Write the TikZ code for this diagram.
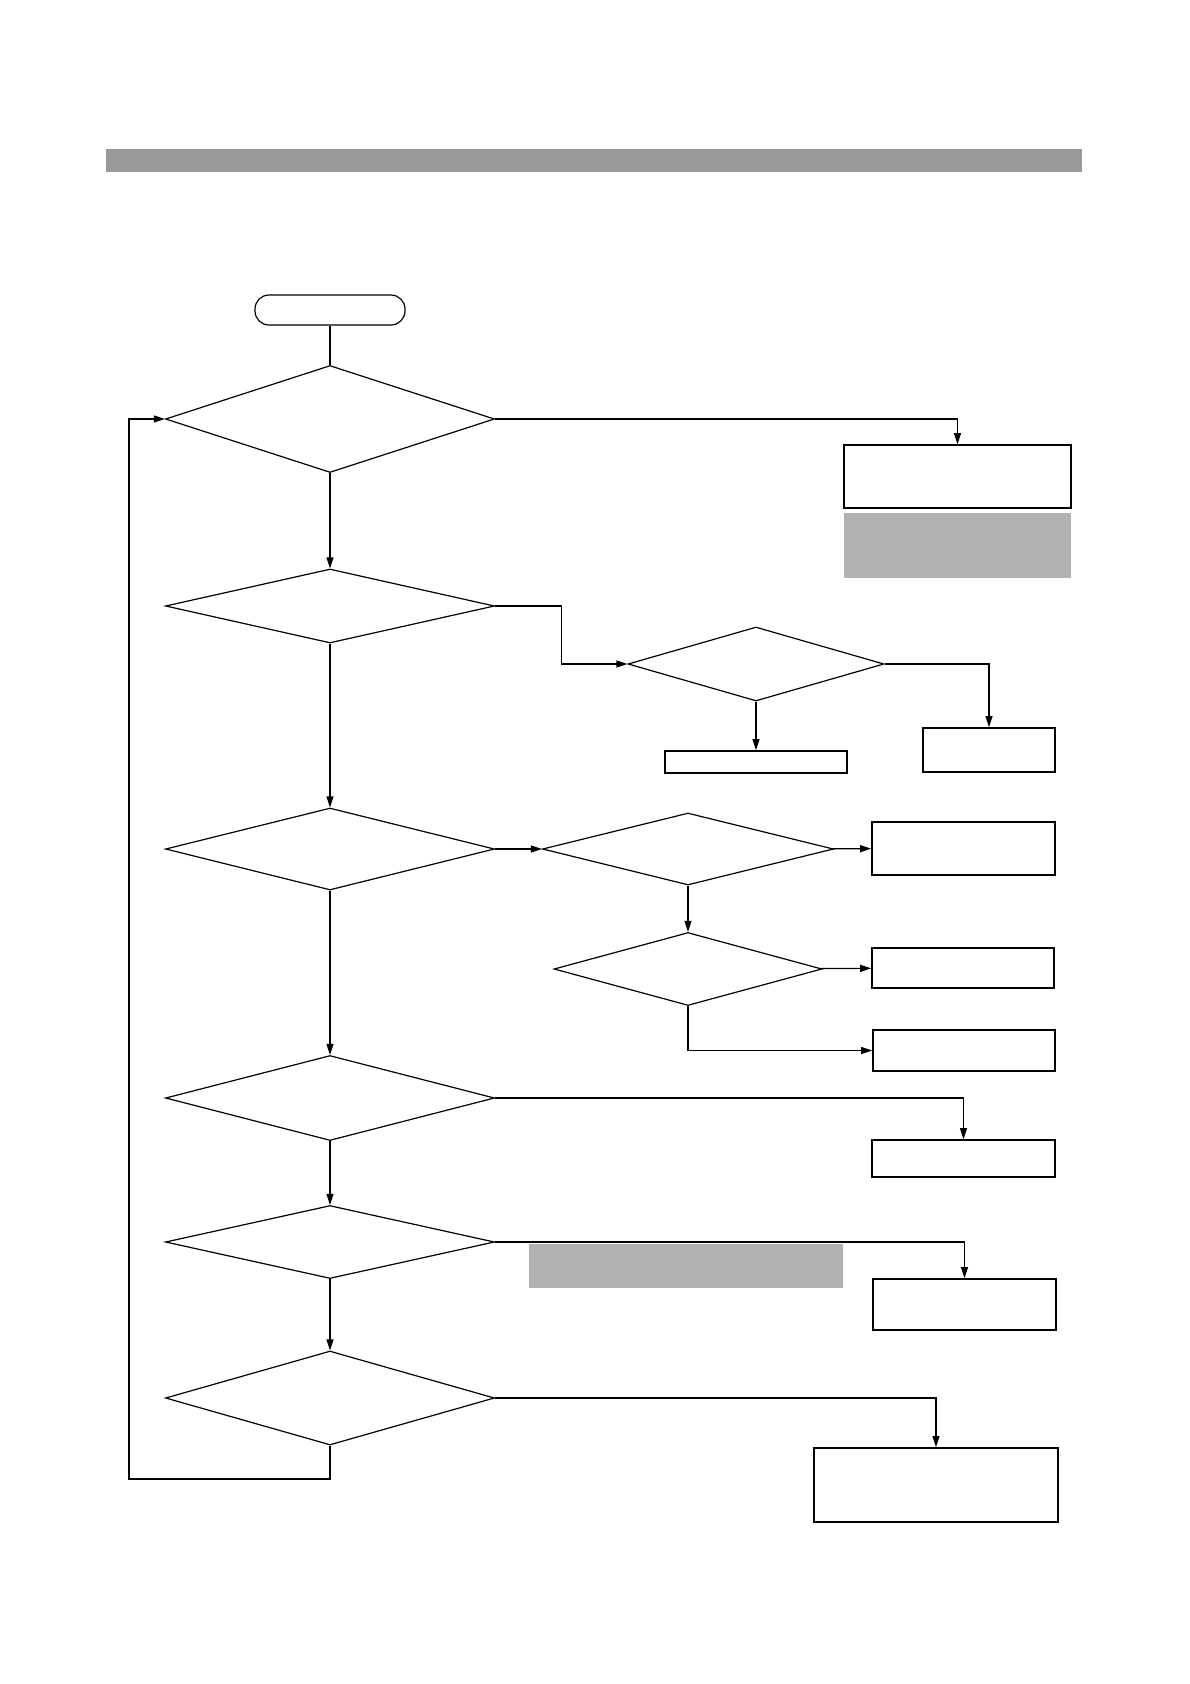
\documentclass[tikz,border=0pt]{standalone}
\usepackage{tikz}
\usetikzlibrary{shapes.geometric, arrows.meta, positioning}

\begin{document}
\begin{tikzpicture}[x=1pt, y=-1pt,
    decision/.style 2 args={diamond, draw, line width=1.2pt, inner sep=0pt, minimum width=#1, minimum height=#2},
    actbox/.style 2 args={rectangle, draw, line width=1.7pt, inner sep=0pt, minimum width=#1, minimum height=#2},
    shadebox/.style 2 args={rectangle, fill=black!30, inner sep=0pt, minimum width=#1, minimum height=#2},
    flow/.style={line width=1.2pt, -{Triangle[length=11pt, width=7pt]}},
    plain/.style={line width=1.2pt}]
  \useasboundingbox (0,0) rectangle (1190,1684);
  % header bar
  \fill[black!40] (106,149) rectangle (1082,172);

  \node[draw, line width=1.2pt, rounded corners=14pt, minimum width=150pt, minimum height=30pt] (start) at (330,310) {};

  % main column
  \node[decision={329pt}{107pt}] (chk1) at (330,419) {};
  \node[decision={329pt}{74pt}] (chk2) at (330,606) {};
  \node[decision={329pt}{82pt}] (chk3) at (330,849) {};
  \node[decision={329pt}{85pt}] (chk4) at (330,1098) {};
  \node[decision={329pt}{73pt}] (chk5) at (330,1242) {};
  \node[decision={329pt}{94pt}] (chk6) at (330,1398) {};

  % side branches
  \node[decision={256pt}{74pt}] (sub1) at (756,664) {};
  \node[decision={291pt}{72pt}] (sub2) at (688,849) {};
  \node[decision={268pt}{73pt}] (sub3) at (688,969) {};

  \node[actbox={227pt}{63pt}] (res1) at (957.5,476.5) {};
  \node[shadebox={227pt}{65pt}] (note1) at (957.5,545.5) {};
  \node[actbox={182pt}{22pt}] (res2) at (756,762) {};
  \node[actbox={132pt}{44pt}] (res3) at (989,750) {};
  \node[actbox={183pt}{53pt}] (res4) at (963.5,848.5) {};
  \node[actbox={182pt}{40pt}] (res5) at (963,968) {};
  \node[actbox={182pt}{41pt}] (res6) at (964,1050.5) {};
  \node[actbox={183pt}{37pt}] (res7) at (963.5,1158.5) {};
  \node[shadebox={314pt}{44pt}] (note2) at (686,1266) {};
  \node[actbox={183pt}{51pt}] (res8) at (964.5,1304.5) {};
  \node[actbox={244pt}{74pt}] (res9) at (936,1485) {};

  \coordinate (back) at (129,1479);

  % connectors
  \draw[plain] (start) -- (chk1);
  \draw[flow] (chk1.east) -| (res1.north);
  \draw[flow] (chk1) -- (chk2);
  \draw[flow] (chk2.east) -- ++(66,0) |- (sub1.west);
  \draw[flow] (sub1) -- (res2);
  \draw[flow] (sub1.east) -| (res3.north);
  \draw[flow] (chk2) -- (chk3);
  \draw[flow] (chk3) -- (sub2);
  \draw[flow] (sub2) -- (res4);
  \draw[flow] (sub2) -- (sub3);
  \draw[flow] (sub3) -- (res5);
  \draw[flow] (sub3.south) |- (res6.west);
  \draw[flow] (chk3) -- (chk4);
  \draw[flow] (chk4.east) -| (res7.north);
  \draw[flow] (chk4) -- (chk5);
  \draw[flow] (chk5.east) -| (res8.north);
  \draw[flow] (chk5) -- (chk6);
  \draw[flow] (chk6.east) -| (res9.north);
  \draw[flow] (chk6.south) |- (back) |- (chk1.west);
\end{tikzpicture}
\end{document}
